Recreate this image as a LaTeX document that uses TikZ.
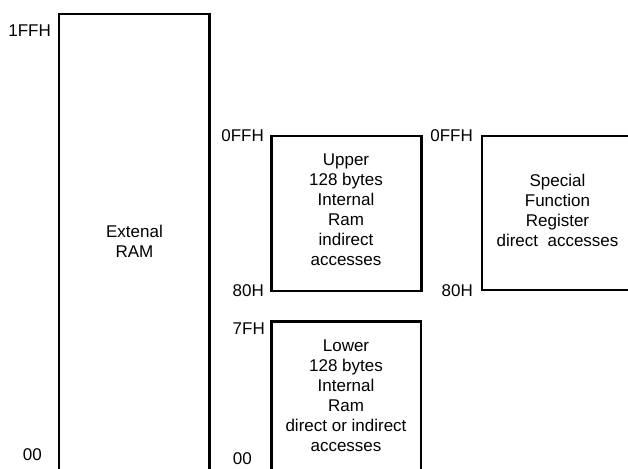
\documentclass[tikz,border=0pt]{standalone}
\usepackage{fontspec}
\setmainfont{Liberation Sans}
\begin{document}
\begin{tikzpicture}[x=1pt,y=1pt,
  box/.style={draw, line width=2.5pt},
  lbl/.style={font=\fontsize{17}{20}\selectfont, align=center, inner sep=0pt},
  addr/.style={font=\fontsize{17}{20}\selectfont, anchor=base east, inner sep=0pt}]
\useasboundingbox (0,0) rectangle (628,468);
\clip (0,0) rectangle (628,468);
% boxes
\draw[box] (59,-20) rectangle (209.5,454);
\draw[box] (271.5,177) rectangle (421.5,332);
\draw[box] (482,178) rectangle (640,332);
\draw[box] (271.5,-20) rectangle (421,146.5);
% box texts
\node[lbl] (ext) at (134.5,227) {Extenal\\RAM};
\node[lbl] (upper) at (346,258) {Upper\\128 bytes\\Internal\\Ram\\indirect\\accesses};
\node[lbl] (sfr) at (557.5,258) {Special\\Function\\Register\\direct\ \ accesses};
\node[lbl] (lower) at (346,72) {Lower\\128 bytes\\Internal\\Ram\\direct or indirect\\accesses};
% address labels
\node[addr] (a1) at (51,431) {1FFH};
\node[addr] (a2) at (42,8) {00};
\node[addr] (a3) at (264,326) {0FFH};
\node[addr] (a4) at (264,171) {80H};
\node[addr] (a5) at (473,326) {0FFH};
\node[addr] (a6) at (473,171) {80H};
\node[addr] (a7) at (265,133) {7FH};
\node[addr] (a8) at (252,3.5) {00};
\end{tikzpicture}
\end{document}
